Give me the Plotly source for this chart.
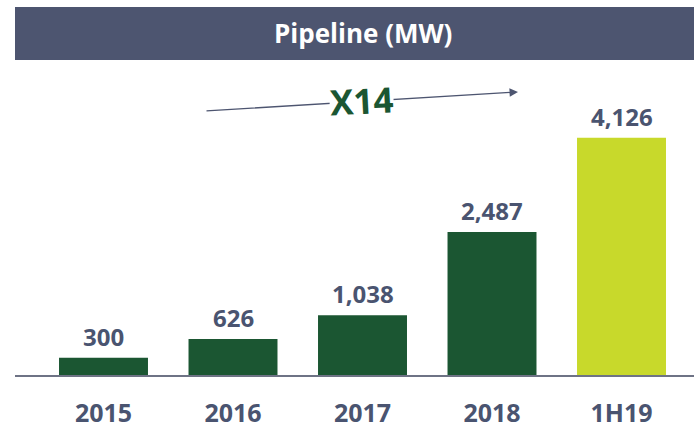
import plotly.graph_objects as go

categories = ["2015", "2016", "2017", "2018", "1H19"]
values = [300, 626, 1038, 2487, 4126]
labels = ["300", "626", "1,038", "2,487", "4,126"]
bar_colors = ["#1b5632", "#1b5632", "#1b5632", "#1b5632", "#c8d92b"]
title_text = "Pipeline (MW)"
growth_text = "X14"

SLATE = "#4d5570"
LABEL = "#4a5470"
FONT = "Open Sans"

xs = list(range(len(categories)))

fig = go.Figure()
fig.add_trace(go.Bar(
    x=xs, y=values, marker=dict(color=bar_colors, line=dict(width=0)),
    width=0.687, hoverinfo="skip", showlegend=False,
))

for x, v, t in zip(xs, values, labels):
    fig.add_annotation(x=x, y=v, text=f"<b>{t}</b>", showarrow=False, yanchor="bottom",
                       xanchor="center", yshift=3,
                       font=dict(family=FONT, size=24, color=LABEL))

# banner
fig.add_shape(type="rect", xref="paper", yref="paper", x0=0, x1=1,
              y0=1.0328, y1=1.2066, fillcolor=SLATE, line=dict(width=0), layer="below")
fig.add_annotation(xref="paper", yref="paper", x=0.5125, y=1.1213, text=f"<b>{title_text}</b>",
                   showarrow=False, xanchor="center", yanchor="middle",
                   font=dict(family=FONT, size=26, color="white"))

# growth arrow
fig.add_annotation(xref="paper", yref="paper", x=0.7408, y=0.928, ax=-313, ay=19,
                   text="", showarrow=True, arrowhead=2, arrowsize=1.3, arrowwidth=1.3,
                   arrowcolor=SLATE)
fig.add_annotation(xref="paper", yref="paper", x=(361 - 15) / 679, y=(375 - 100) / 305,
                   text=f"<b>{growth_text}</b>", showarrow=False, textangle=-3,
                   xanchor="center", yanchor="middle", bgcolor="white", borderpad=0,
                   font=dict(family=FONT, size=35, color="#1b5632"))

fig.update_layout(
    width=694, height=431,
    margin=dict(l=15, r=0, t=70, b=56),
    plot_bgcolor="white", paper_bgcolor="white",
    xaxis=dict(range=[-0.6834, 4.5598], tickvals=xs, ticktext=[f"<b>{c}</b>" for c in categories],
               showgrid=False, zeroline=False, showline=True, linecolor="#6e7385",
               linewidth=1.5, ticks="", ticklabelstandoff=15, automargin=False,
               tickfont=dict(family=FONT, size=25, color=LABEL)),
    yaxis=dict(range=[0, 5304], visible=False, showgrid=False, zeroline=False,
               automargin=False),
)

fig.write_html("out.html", config={"displayModeBar": False},
               post_script="document.body.style.margin='0';document.body.style.overflow='hidden';")
